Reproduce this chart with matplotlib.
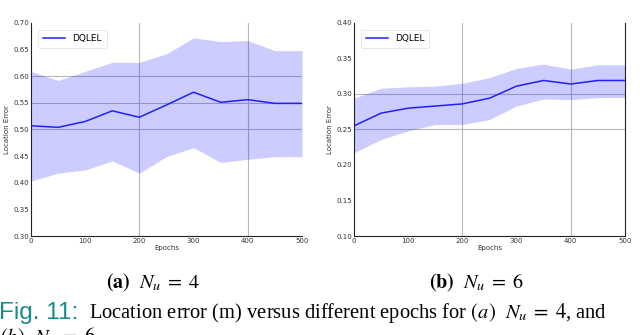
import matplotlib
matplotlib.use("Agg")
import matplotlib.pyplot as plt

plt.rcParams['mathtext.fontset'] = 'stix'

epochs = [0, 50, 100, 150, 200, 250, 300, 350, 400, 450, 500]

mean_a = [0.507, 0.504, 0.515, 0.535, 0.523, 0.546, 0.570, 0.551, 0.556, 0.549, 0.549]
upper_a = [0.609, 0.592, 0.609, 0.626, 0.626, 0.642, 0.672, 0.665, 0.667, 0.648, 0.648]
lower_a = [0.403, 0.418, 0.424, 0.441, 0.418, 0.449, 0.466, 0.438, 0.444, 0.449, 0.449]

mean_b = [0.255, 0.273, 0.280, 0.283, 0.286, 0.294, 0.311, 0.319, 0.314, 0.319, 0.319]
upper_b = [0.294, 0.308, 0.310, 0.311, 0.315, 0.323, 0.336, 0.342, 0.335, 0.341, 0.341]
lower_b = [0.217, 0.236, 0.248, 0.257, 0.257, 0.264, 0.283, 0.293, 0.292, 0.295, 0.295]

yticks_a = [0.30, 0.35, 0.40, 0.45, 0.50, 0.55, 0.60, 0.65, 0.70]
yticks_b = [0.10, 0.15, 0.20, 0.25, 0.30, 0.35, 0.40]
xticks = [0, 100, 200, 300, 400, 500]
hgrid_a = [0.50, 0.55, 0.60]
hgrid_b = [0.25, 0.30]
vgrid = [200, 400]

series_label = "DQLEL"

fig = plt.figure(figsize=(6.4, 3.35), dpi=100)
ax_a = fig.add_axes([0.0484, 0.2955, 0.4234, 0.636])
ax_b = fig.add_axes([0.553, 0.2955, 0.4234, 0.636])

def draw(ax, mean, lo, hi, yticks, hgrid, right_spine):
    for v in vgrid:
        ax.axvline(v, color='#b8b8b8', lw=0.8, zorder=0)
    for h in hgrid:
        ax.axhline(h, color='#b8b8b8', lw=0.8, zorder=0)
    ax.fill_between(epochs, lo, hi, color='blue', alpha=0.2, lw=0, zorder=1)
    ax.plot(epochs, mean, color='#2020ff', lw=1.1, label=series_label, zorder=2)
    ax.set_xlim(0, 500)
    ax.set_ylim(yticks[0], yticks[-1])
    ax.set_xticks(xticks)
    ax.set_yticks(yticks)
    ax.set_yticklabels([f"{t:.2f}" for t in yticks])
    ax.tick_params(labelsize=5, length=0, pad=1.5, colors='#333333')
    ax.spines['top'].set_visible(False)
    ax.spines['right'].set_visible(right_spine)
    for s in ['left', 'bottom', 'right']:
        ax.spines[s].set_linewidth(0.8)
        ax.spines[s].set_color('#222222')
    ax.set_xlabel("Epochs", fontsize=5, labelpad=1, color='#333333')
    ax.set_ylabel("Location Error", fontsize=5, labelpad=2, color='#333333')
    leg = ax.legend(loc='upper left', fontsize=6.5, frameon=True, handlelength=2.5,
                    borderpad=0.5, bbox_to_anchor=(0.01, 0.99))
    leg.get_frame().set_edgecolor('#dddddd')
    leg.get_frame().set_linewidth(0.6)

draw(ax_a, mean_a, lower_a, upper_a, yticks_a, hgrid_a, False)
draw(ax_b, mean_b, lower_b, upper_b, yticks_b, hgrid_b, True)

serif = 'Liberation Serif'
fig.text(0.239, 0.155, r"$\mathbf{(a)}\ \ N_u\;=\;4$", fontsize=14.5, family=serif,
         ha='center', va='center')
fig.text(0.745, 0.155, r"$\mathbf{(b)}\ \ N_u\;=\;6$", fontsize=14.5, family=serif,
         ha='center', va='center')
fig.text(-0.002, 0.066, "Fig. 11:", fontsize=17.5, family='Liberation Sans', color='#1a8a8a',
         ha='left', va='center')
fig.text(0.139, 0.066, r"Location error (m) versus different epochs for $(a)$  $N_u\;=\;4$, and",
         fontsize=14.8, family=serif, ha='left', va='center')
fig.text(0.0, -0.006, r"$(b)$  $N_u\;=\;6$.", fontsize=14.8, family=serif, ha='left', va='center')

fig.savefig("out.png", dpi=100)
